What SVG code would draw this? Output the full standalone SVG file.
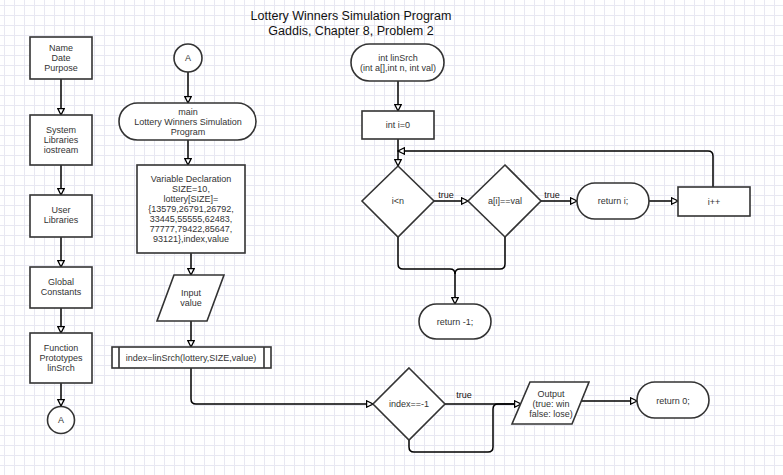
<svg xmlns="http://www.w3.org/2000/svg" width="783" height="475" viewBox="0 0 783 475">
<defs>
<pattern id="grid" x="4" y="5" width="10" height="10" patternUnits="userSpaceOnUse">
<path d="M0 0.5 H10 M0.5 0 V10" fill="none" stroke="#e8e8f2" stroke-width="1"/>
</pattern>
<marker id="arr" viewBox="0 0 10 10" refX="9" refY="5" markerWidth="8" markerHeight="8" markerUnits="userSpaceOnUse" orient="auto">
<path d="M1 1 L9 5 L1 9 Z" fill="#fff" stroke="#000" stroke-width="1.6"/>
</marker>
</defs>
<style>
.n{fill:#fff;stroke:#333;stroke-width:1.6}
.c{fill:none;stroke:#000;stroke-width:1.5}
.a{marker-end:url(#arr)}
text{font-family:"Liberation Sans",Arial,sans-serif;font-size:9px;fill:#333;text-anchor:middle}
.t{font-size:12.5px;fill:#111}
.l{fill:#111}
</style>
<rect width="783" height="475" fill="#fff"/>
<rect width="783" height="475" fill="url(#grid)"/>

<g id="title">
<text class="t" x="351" y="20">Lottery Winners Simulation Program</text>
<text class="t" x="351" y="35">Gaddis, Chapter 8, Problem 2</text>
</g>

<g id="connectors">
<path class="c a" d="M61 79 V115"/>
<path class="c a" d="M61 165 V195"/>
<path class="c a" d="M61 237 V267"/>
<path class="c a" d="M61 308 V333"/>
<path class="c a" d="M61 383 V406"/>
<path class="c a" d="M188 72 V103"/>
<path class="c a" d="M188 140 V165"/>
<path class="c a" d="M191 253 V275"/>
<path class="c a" d="M191 321 V347"/>
<path class="c a" d="M191 368 V399 Q191 404 196 404 H373"/>
<path class="c a" d="M398 81 V111"/>
<path class="c a" d="M398 139 V166"/>
<path class="c a" d="M713 187 V156 Q713 151 708 151 H398"/>
<path class="c a" d="M434 201 H468"/>
<path class="c a" d="M541 201 H577"/>
<path class="c a" d="M649 201 H678"/>
<path class="c a" d="M398 237 V264 Q398 269 403 269 H450 Q455 269 455 274 V304"/>
<path class="c" d="M505 237 V264 Q505 269 500 269 H460 Q455 269 455 274"/>
<path class="c a" d="M445 404 H521"/>
<path class="c" d="M409 440 V447 Q409 452 414 452 H488 Q493 452 493 447 V409 Q493 404 498 404 H515"/>
<path class="c a" d="M581 401 H637"/>
<text class="l" x="446" y="198">true</text>
<text class="l" x="552" y="198">true</text>
<text class="l" x="464" y="398">true</text>
</g>

<g id="n-name">
<rect class="n" x="30" y="37" width="62" height="42"/>
<text x="61" y="51">Name</text>
<text x="61" y="61">Date</text>
<text x="61" y="71">Purpose</text>
</g>
<g id="n-syslib">
<rect class="n" x="30" y="115" width="62" height="50"/>
<text x="61" y="133">System</text>
<text x="61" y="143">Libraries</text>
<text x="61" y="153">iostream</text>
</g>
<g id="n-userlib">
<rect class="n" x="30" y="195" width="62" height="42"/>
<text x="61" y="213">User</text>
<text x="61" y="223">Libraries</text>
</g>
<g id="n-global">
<rect class="n" x="30" y="267" width="62" height="41"/>
<text x="61" y="285">Global</text>
<text x="61" y="295">Constants</text>
</g>
<g id="n-proto">
<rect class="n" x="30" y="333" width="62" height="50"/>
<text x="61" y="351">Function</text>
<text x="61" y="361">Prototypes</text>
<text x="61" y="371">linSrch</text>
</g>
<g id="n-a-left">
<circle class="n" cx="61" cy="420" r="13.5"/>
<text x="61" y="423">A</text>
</g>

<g id="n-a-mid">
<circle class="n" cx="188" cy="58" r="14"/>
<text x="188" y="61">A</text>
</g>
<g id="n-main">
<rect class="n" x="119" y="103" width="137" height="37" rx="18.5"/>
<text x="188" y="115">main</text>
<text x="188" y="125">Lottery Winners Simulation</text>
<text x="188" y="135">Program</text>
</g>
<g id="n-vars">
<rect class="n" x="137" y="165" width="108" height="88"/>
<text x="191" y="182">Variable Declaration</text>
<text x="191" y="192">SIZE=10,</text>
<text x="191" y="202">lottery[SIZE]=</text>
<text x="191" y="212">{13579,26791,26792,</text>
<text x="191" y="222">33445,55555,62483,</text>
<text x="191" y="232">77777,79422,85647,</text>
<text x="191" y="242">93121},index,value</text>
</g>
<g id="n-input">
<polygon class="n" points="174,275 224,275 207,321 157,321"/>
<text x="191" y="296">Input</text>
<text x="191" y="306">value</text>
</g>
<g id="n-call">
<rect class="n" x="112" y="347" width="159" height="21"/>
<path class="n" d="M119 347 V368 M264 347 V368"/>
<text x="191" y="361">index=linSrch(lottery,SIZE,value)</text>
</g>

<g id="n-linsrch">
<rect class="n" x="351" y="44" width="93" height="37" rx="18.5"/>
<text x="398" y="61">int linSrch</text>
<text x="398" y="71">(int a[],int n, int val)</text>
</g>
<g id="n-init">
<rect class="n" x="362" y="111" width="72" height="28"/>
<text x="398" y="128">int i=0</text>
</g>
<g id="n-cond">
<polygon class="n" points="398,166 434,201 398,237 362,201"/>
<text x="398" y="204">i&lt;n</text>
</g>
<g id="n-cmp">
<polygon class="n" points="505,165 541,201 505,237 468,201"/>
<text x="505" y="204">a[i]==val</text>
</g>
<g id="n-ret-i">
<rect class="n" x="577" y="183" width="72" height="36" rx="18"/>
<text x="613" y="204">return i;</text>
</g>
<g id="n-inc">
<rect class="n" x="678" y="187" width="72" height="29"/>
<text x="714" y="205">i++</text>
</g>
<g id="n-ret-neg">
<rect class="n" x="419" y="304" width="72" height="35" rx="17.5"/>
<text x="455" y="325">return -1;</text>
</g>

<g id="n-check">
<polygon class="n" points="409,368 445,404 409,440 373,404"/>
<text x="409" y="407">index==-1</text>
</g>
<g id="n-output">
<polygon class="n" points="530,382 589,382 572,424 512,424"/>
<text x="551" y="397">Output</text>
<text x="551" y="407">(true: win</text>
<text x="551" y="417">false: lose)</text>
</g>
<g id="n-ret0">
<rect class="n" x="637" y="382" width="72" height="36" rx="18"/>
<text x="673" y="404">return 0;</text>
</g>
</svg>
